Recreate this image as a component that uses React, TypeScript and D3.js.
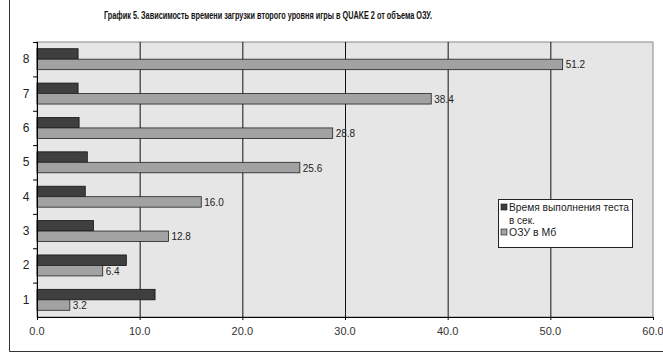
import React from "react";
import * as d3 from "d3";

const title = "График 5. Зависимость времени загрузки второго уровня игры в QUAKE 2 от объема ОЗУ.";
const categories = ["8", "7", "6", "5", "4", "3", "2", "1"];
const timeValues = [4.0, 4.0, 4.1, 4.9, 4.7, 5.5, 8.7, 11.5];
const ramValues = [51.2, 38.4, 28.8, 25.6, 16.0, 12.8, 6.4, 3.2];
const xTicks = [0, 10, 20, 30, 40, 50, 60];
const legendLines = ["Время выполнения теста", "в сек.", "ОЗУ в Мб"];

const width = 663;
const height = 353;
const plot = { left: 37, right: 653, top: 42, bottom: 317 };

const App = () => {
  const x = d3.scaleLinear().domain([0, 60]).range([plot.left, plot.right]);
  const y = d3.scaleBand().domain(categories).range([plot.top, plot.bottom]);
  const sub = d3
    .scaleBand()
    .domain(["time", "ram"])
    .range([0, y.bandwidth()])
    .paddingOuter(0.64);

  const font = "'Liberation Sans', Arial, sans-serif";

  return (
    <svg width={width} height={height} style={{ position: "absolute", left: 0, top: 0 }}>
      <rect x={0} y={0} width={width} height={height} fill="#fff" />
      {/* chart frame */}
      <line x1={9.5} y1={0} x2={9.5} y2={351.5} stroke="#333" />
      <line x1={9.5} y1={351.5} x2={width} y2={351.5} stroke="#333" />

      <text
        x={104}
        y={19}
        textLength={328}
        lengthAdjust="spacingAndGlyphs"
        fontFamily={font}
        fontWeight="bold"
        fontSize={10.5}
        fill="#111"
      >
        {title}
      </text>

      {/* plot area */}
      <rect
        x={plot.left}
        y={plot.top}
        width={plot.right - plot.left}
        height={plot.bottom - plot.top}
        fill="#e6e6e6"
        stroke="#888"
      />
      {xTicks.slice(1, -1).map((t) => (
        <line key={t} x1={x(t) + 0.5} x2={x(t) + 0.5} y1={plot.top} y2={plot.bottom} stroke="#111" />
      ))}

      {/* bars */}
      {categories.map((c, i) => (
        <g key={c} transform={`translate(0,${y(c)})`}>
          <rect
            x={x(0)}
            y={sub("time")}
            width={x(timeValues[i]) - x(0)}
            height={sub.bandwidth()}
            fill="#3f3f3f"
            stroke="#111"
            strokeWidth={0.8}
          />
          <rect
            x={x(0)}
            y={sub("ram")}
            width={x(ramValues[i]) - x(0)}
            height={sub.bandwidth()}
            fill="#a2a2a2"
            stroke="#222"
            strokeWidth={0.8}
          />
          <text
            x={x(ramValues[i]) + 3}
            y={sub("ram") + sub.bandwidth() / 2 + 4}
            fontFamily={font}
            fontSize={10}
            fill="#222"
          >
            {ramValues[i].toFixed(1)}
          </text>
        </g>
      ))}

      {/* axes */}
      <line x1={plot.left + 0.5} x2={plot.left + 0.5} y1={plot.top} y2={plot.bottom + 3} stroke="#000" />
      <line x1={plot.left} x2={plot.right} y1={plot.bottom + 0.5} y2={plot.bottom + 0.5} stroke="#000" />
      {categories.map((c) => (
        <line
          key={"t" + c}
          x1={plot.left - 4}
          x2={plot.left}
          y1={(y(c) as number) + 0.5}
          y2={(y(c) as number) + 0.5}
          stroke="#000"
        />
      ))}
      {xTicks.map((t) => (
        <line key={"xt" + t} x1={x(t) + 0.5} x2={x(t) + 0.5} y1={plot.bottom} y2={plot.bottom + 3} stroke="#000" />
      ))}
      {categories.map((c) => (
        <text
          key={"l" + c}
          x={26}
          y={(y(c) as number) + y.bandwidth() / 2 + 4}
          textAnchor="middle"
          fontFamily={font}
          fontSize={12}
          fill="#222"
        >
          {c}
        </text>
      ))}
      {xTicks.map((t) => (
        <text
          key={"xl" + t}
          x={x(t)}
          y={335}
          textAnchor="middle"
          fontFamily={font}
          fontSize={11}
          fill="#333"
        >
          {t.toFixed(1)}
        </text>
      ))}

      {/* legend */}
      <rect x={498.5} y={199.5} width={134} height={48} fill="#fff" stroke="#222" />
      <rect x={501} y={204} width={6} height={6} fill="#3f3f3f" stroke="#111" strokeWidth={0.6} />
      <text x={509} y={211} textLength={120} lengthAdjust="spacingAndGlyphs" fontFamily={font} fontSize={10.5} fill="#222">
        {legendLines[0]}
      </text>
      <text x={509} y={224} fontFamily={font} fontSize={10} fill="#222">
        {legendLines[1]}
      </text>
      <rect x={501} y={229} width={6} height={6} fill="#a2a2a2" stroke="#111" strokeWidth={0.6} />
      <text x={509} y={236} fontFamily={font} fontSize={10.5} fill="#222">
        {legendLines[2]}
      </text>
    </svg>
  );
};

export default App;
